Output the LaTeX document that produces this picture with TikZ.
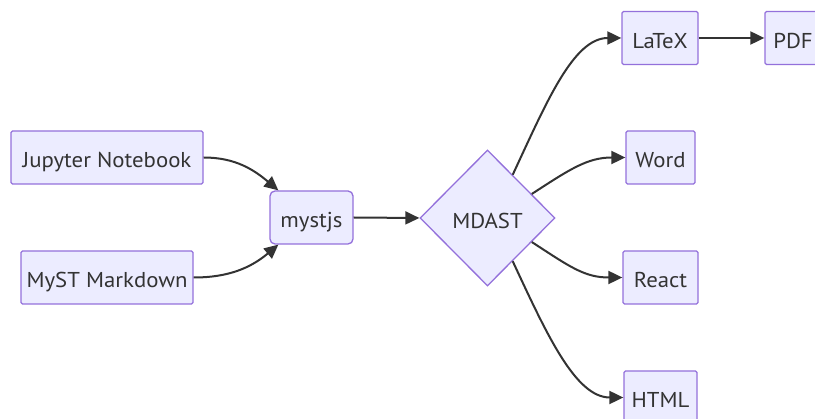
\documentclass[tikz,border=0pt]{standalone}
\usepackage{fontspec}
\setmainfont[FakeStretch=1.06]{PT Sans}
\usetikzlibrary{shapes.geometric,arrows.meta,calc}
\definecolor{nodefill}{HTML}{ECECFF}
\definecolor{nodeline}{HTML}{9370DB}
\definecolor{edgecol}{HTML}{333333}
\begin{document}
\begin{tikzpicture}[x=1pt,y=-1pt,
  box/.style={draw=nodeline,fill=nodefill,line width=1.3pt,rounded corners=1.5pt,
    minimum height=53pt,inner sep=0pt,text=edgecol,text height=20.4pt,text depth=0pt,
    font=\fontsize{21.5}{25}\selectfont},
  dia/.style={draw=nodeline,fill=nodefill,line width=1.3pt,diamond,aspect=1,
    minimum width=135pt,minimum height=136pt,inner sep=0pt,text=edgecol,
    text height=20.4pt,text depth=0pt,font=\fontsize{21.5}{25}\selectfont},
  edge/.style={draw=edgecol,line width=2pt,-{Triangle[length=14pt,width=13pt]}}]
\useasboundingbox (0,0) rectangle (815,419);
\clip (0,0) rectangle (815,419);
\node[box,minimum width=192pt] (jup) at (107,157.5) {Jupyter Notebook};
\node[box,minimum width=172pt] (myst) at (107,277.5) {MyST Markdown};
\node[box,minimum width=83pt,rounded corners=5pt] (mystjs) at (311.5,217.5) {mystjs};
\node[dia] (mdast) at (487.5,218) {MDAST};
\node[box,minimum width=76pt] (latex) at (660,38) {LaTeX};
\node[box,minimum width=56pt] (pdf) at (793,38) {PDF};
\node[box,minimum width=69pt] (word) at (660.5,157.5) {Word};
\node[box,minimum width=75pt] (react) at (660.5,277.5) {React};
\node[box,minimum width=73pt] (html) at (660.5,397.5) {HTML};
\coordinate (mjtop) at ($(mystjs.north west)+(9,0)$);
\coordinate (mjbot) at ($(mystjs.south west)+(9,0)$);
\coordinate (d1) at ($(mdast.north)!0.37!(mdast.east)$);
\coordinate (d2) at ($(mdast.north)!0.65!(mdast.east)$);
\coordinate (d3) at ($(mdast.south)!0.65!(mdast.east)$);
\coordinate (d4) at ($(mdast.south)!0.37!(mdast.east)$);
\draw[edge] (jup.east) to[out=0,in=140] (mjtop);
\draw[edge] (myst.east) to[out=0,in=-140] (mjbot);
\draw[edge] (mystjs.east) -- (mdast.west);
\draw[edge] (d1) to[out=65,in=180,out distance=80pt,in distance=48pt] (latex.west);
\draw[edge] (d2) to[out=33,in=180,out distance=45pt,in distance=38pt] (word.west);
\draw[edge] (d3) to[out=-33,in=180,out distance=45pt,in distance=38pt] (react.west);
\draw[edge] (d4) to[out=-65,in=180,out distance=80pt,in distance=48pt] (html.west);
\draw[edge] (latex.east) -- (pdf.west);
\end{tikzpicture}
\end{document}
